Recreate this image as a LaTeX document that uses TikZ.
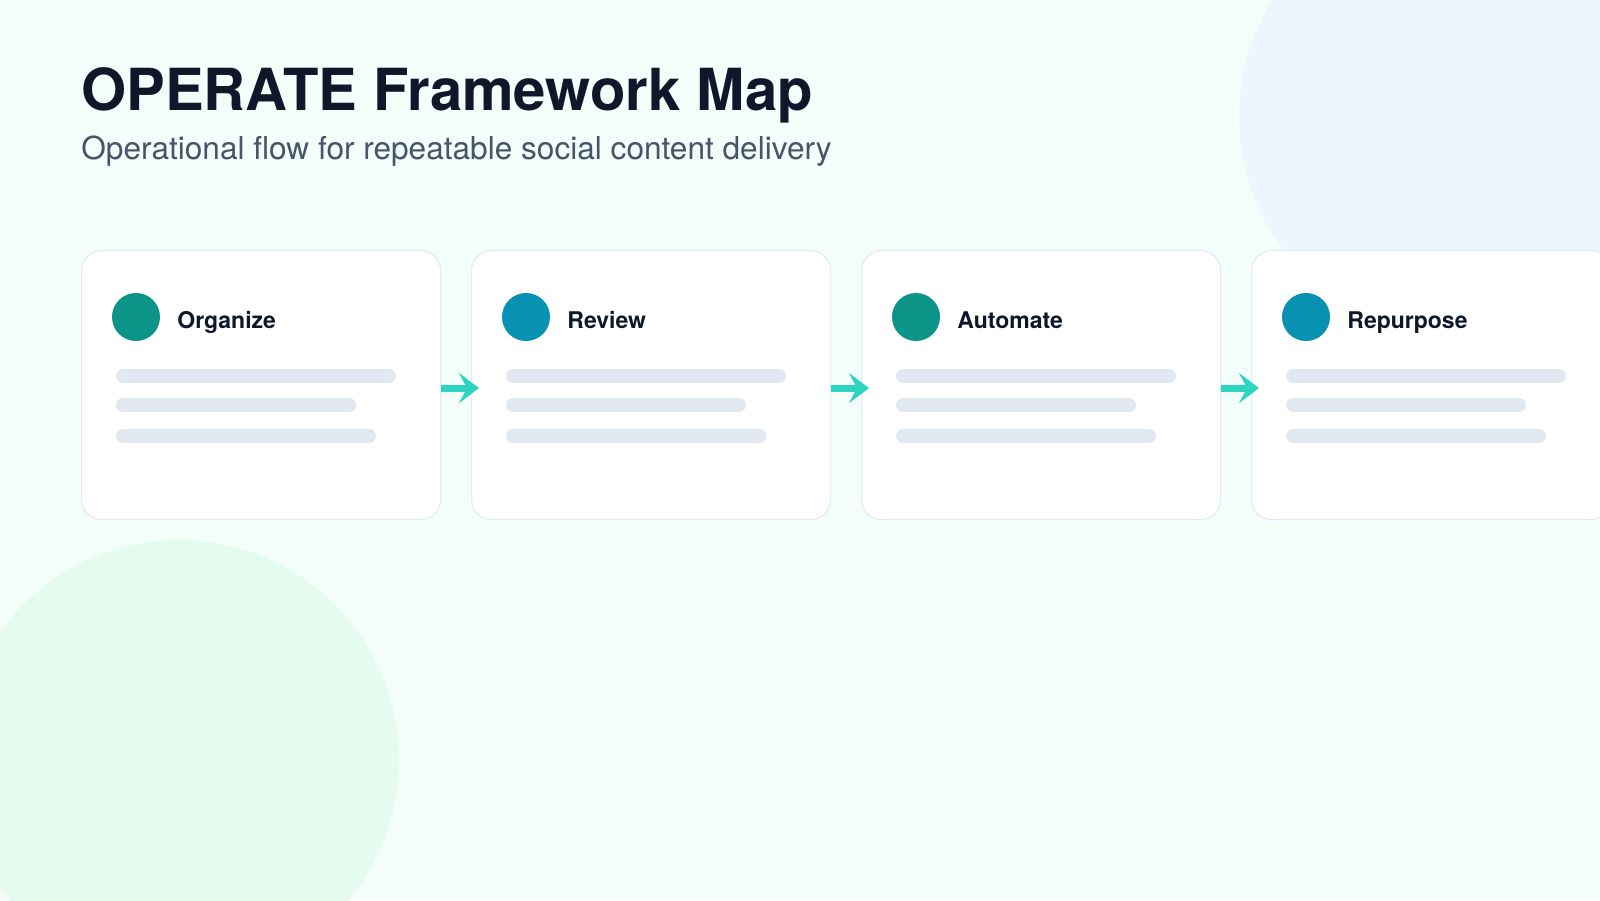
\documentclass[tikz,border=0pt]{standalone}
\usepackage{fontspec}
\setmainfont{TeX Gyre Heros}
\usetikzlibrary{positioning,arrows.meta}
\definecolor{bgmint}  {RGB}{243,253,249}
\definecolor{blobblue}{RGB}{236,246,253}
\definecolor{blobgrn} {RGB}{230,251,239}
\definecolor{ink}     {RGB}{15,23,42}
\definecolor{subink}  {RGB}{71,85,105}
\definecolor{teal}    {RGB}{13,148,136}
\definecolor{sky}     {RGB}{8,145,178}
\definecolor{barg}    {RGB}{226,232,240}
\definecolor{cardln}  {RGB}{226,236,244}
\definecolor{flow}    {RGB}{45,212,191}

\tikzset{
  card/.style={draw=cardln,fill=white,rounded corners=10pt,line width=0.6pt,
    minimum width=179.5pt,minimum height=134.5pt,anchor=north west,inner sep=0},
  dot/.style={circle,minimum size=24pt,inner sep=0},
  steplabel/.style={anchor=base west,inner sep=0,font=\bfseries\fontsize{11.5}{13}\selectfont,text=ink},
  bar/.style={line width=7pt,line cap=round,draw=barg},
  flowarrow/.style={draw=flow,line width=3.5pt,-{Stealth[length=10pt,width=15pt,inset=4pt]}}
}

\begin{document}
\begin{tikzpicture}[x=0.5pt,y=-0.5pt]
  \useasboundingbox[fill=bgmint] (0,0) rectangle (1600,900);
  \begin{scope}
    \clip (0,0) rectangle (1600,900);
    \fill[blobblue] (1459,117) circle (220);
    \fill[blobgrn] (179,760) circle (220);
  \end{scope}

  \node[anchor=base west,inner sep=0,font=\bfseries\fontsize{29}{34}\selectfont,text=ink]
    (title) at (81,110) {OPERATE Framework Map};
  \node[anchor=base west,inner sep=0,font=\fontsize{15.8}{19}\selectfont,text=subink]
    (sub) at (81,159) {Operational flow for repeatable social content delivery};

  \foreach \i/\name/\col in {0/Organize/teal,1/Review/sky,2/Automate/teal,3/Repurpose/sky}{
    \node[card] (c\i) at (81+390*\i,250) {};
    \node[dot,fill=\col] (d\i) at (136+390*\i,317) {};
    \node[steplabel] (t\i) at (177+390*\i,328) {\name};
    \draw[bar] (123+390*\i,376) -- (389+390*\i,376);
    \draw[bar] (123+390*\i,405) -- (349+390*\i,405);
    \draw[bar] (123+390*\i,436) -- (369+390*\i,436);
  }

  \foreach \i/\j in {0/1,1/2,2/3}
    \draw[flowarrow] ([yshift=-1.5pt]c\i.east) -- ([xshift=4pt,yshift=-1.5pt]c\j.west);
\end{tikzpicture}
\end{document}
